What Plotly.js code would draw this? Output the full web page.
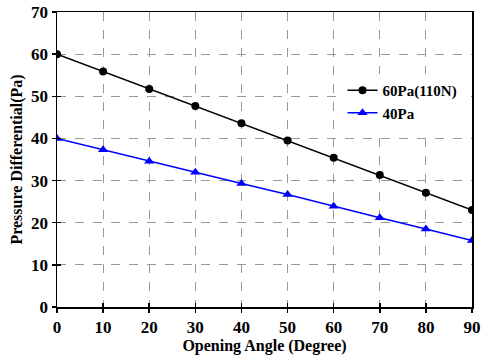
<!DOCTYPE html>
<html>
<head>
<meta charset="utf-8">
<script src="https://cdn.plot.ly/plotly-3.0.1.min.js"></script>
<style>html,body{margin:0;padding:0;background:#fff;}#chart{width:481px;height:360px;}</style>
</head>
<body>
<div id="chart"></div>
<script>
var angles = [0, 10, 20, 30, 40, 50, 60, 70, 80, 90];
var pa60 = [60.0, 55.9, 51.7, 47.7, 43.6, 39.5, 35.4, 31.3, 27.1, 23.0];
var pa40 = [40.0, 37.3, 34.6, 32.0, 29.3, 26.7, 23.9, 21.2, 18.5, 15.8];
var seriesNames = ["60Pa(110N)", "40Pa"];

var font = "Liberation Serif";
var traces = [
  {x: angles, y: pa60, name: seriesNames[0], mode: "lines+markers", type: "scatter",
   line: {color: "#000000", width: 1.5}, marker: {symbol: "circle", size: 8, color: "#000000"}},
  {x: angles, y: pa40, name: seriesNames[1], mode: "lines+markers", type: "scatter",
   line: {color: "#0000ff", width: 1.5}, marker: {symbol: "triangle-up", size: 9, color: "#0000ff"}},
  {x: angles, y: pa40, xaxis: "x2", yaxis: "y2", mode: "lines", opacity: 0,
   showlegend: false, hoverinfo: "skip", line: {width: 0}}
];
var axisCommon = {
  showline: true, linecolor: "#000", linewidth: 1.5, mirror: true,
  ticks: "outside", ticklen: 4, tickwidth: 1.5, tickcolor: "#000",
  showgrid: true, gridcolor: "#999", griddash: "dash", gridwidth: 1,
  zeroline: false,
  tickfont: {family: font, size: 17, color: "#000", weight: 700}
};
var innerTicks = {
  showline: false, showgrid: false, zeroline: false,
  ticks: "inside", ticklen: 4, tickwidth: 1.5, tickcolor: "#000", showticklabels: false
};
var layout = {
  width: 481, height: 360,
  margin: {l: 57, r: 9, t: 12, b: 53},
  paper_bgcolor: "#fff", plot_bgcolor: "#fff",
  showlegend: true,
  legend: {x: 0.688, y: 0.79, xanchor: "left", yanchor: "top", bgcolor: "rgba(255,255,255,1)",
           font: {family: font, size: 15, color: "#000", weight: 700}, tracegroupgap: 0, itemwidth: 30},
  xaxis: Object.assign({}, axisCommon, {range: [0, 90], dtick: 10,
    title: {text: "Opening Angle (Degree)", standoff: 2, font: {family: font, size: 16, color: "#000", weight: 700}}}),
  yaxis: Object.assign({}, axisCommon, {range: [0, 70], dtick: 10,
    title: {text: "Pressure Differential(Pa)", standoff: 4, font: {family: font, size: 16, color: "#000", weight: 700}}}),
  xaxis2: Object.assign({}, innerTicks, {overlaying: "x", side: "bottom", range: [0, 90], dtick: 10, anchor: "y2"}),
  yaxis2: Object.assign({}, innerTicks, {overlaying: "y", side: "left", range: [0, 70], dtick: 10, anchor: "x2"})
};
Plotly.newPlot("chart", traces, layout, {displayModeBar: false, staticPlot: true});
</script>
</body>
</html>
